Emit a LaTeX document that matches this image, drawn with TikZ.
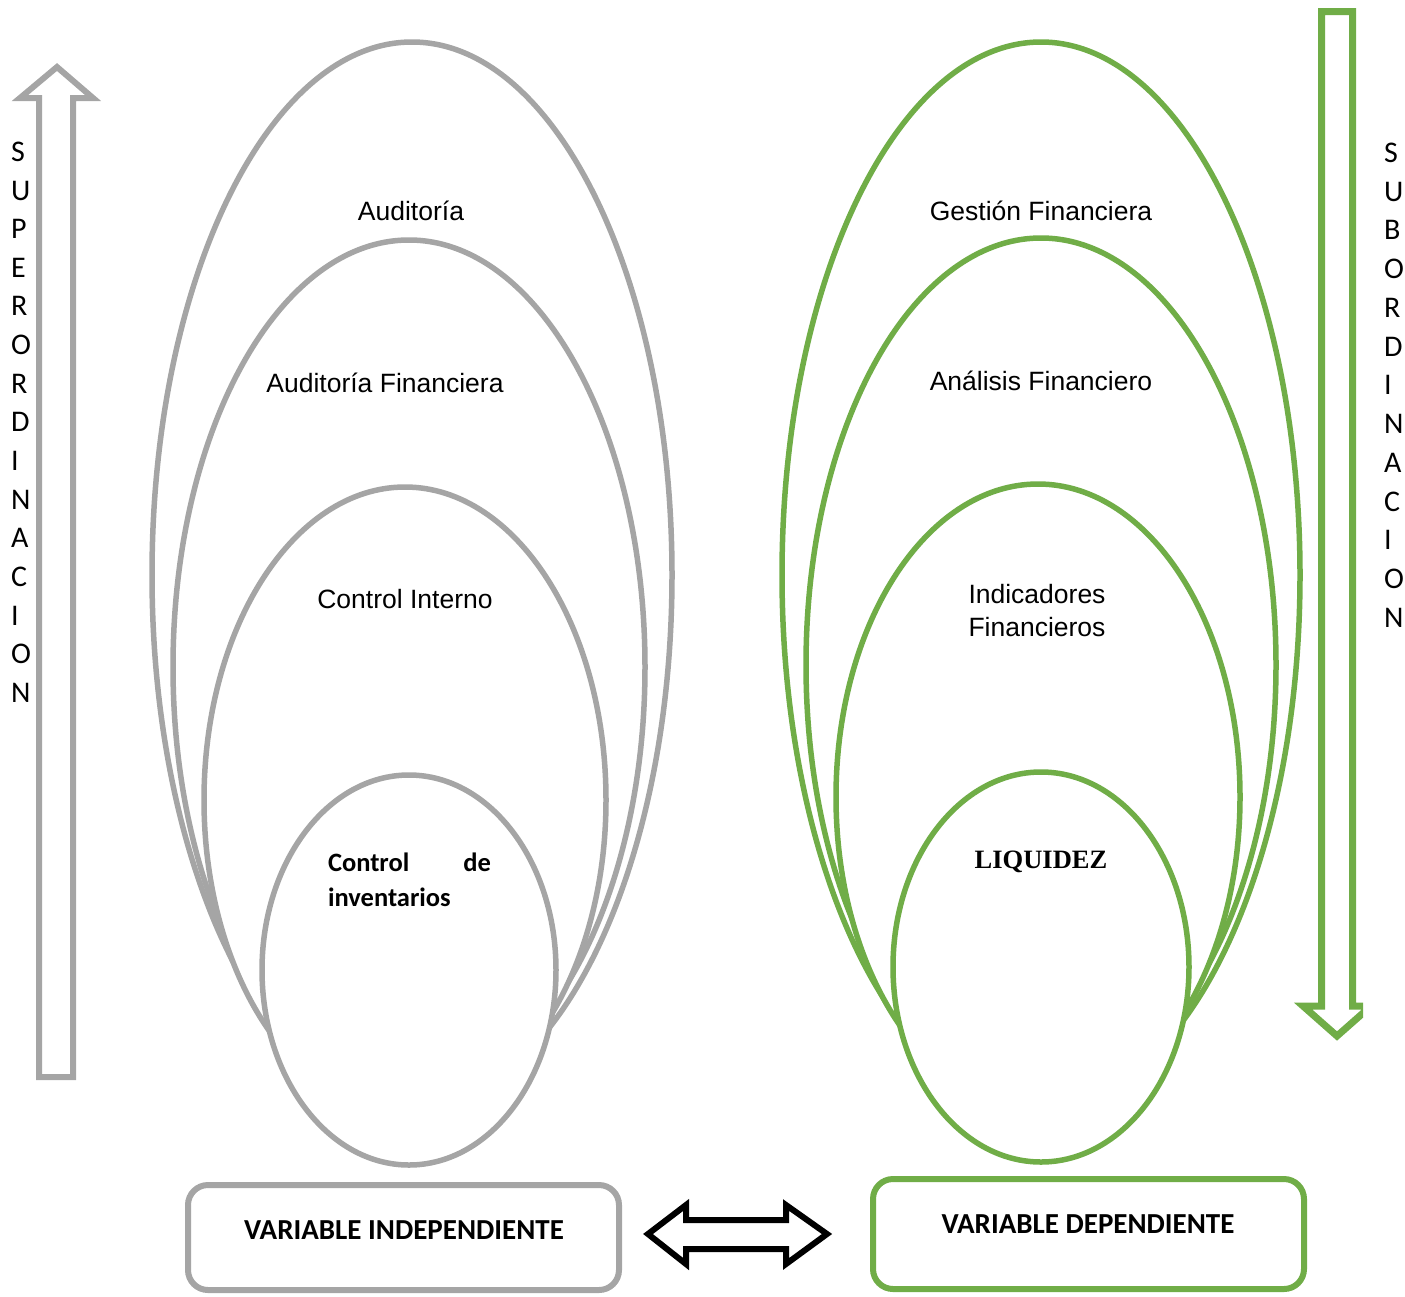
\documentclass[tikz,border=0pt]{standalone}
\usepackage{fontspec}
\setmainfont{Liberation Sans}
\newfontfamily\calibri{Carlito}
\newfontfamily\timesf{Liberation Serif}
\usetikzlibrary{shapes.geometric}
\definecolor{lgray}{HTML}{A5A5A5}
\definecolor{lgreen}{HTML}{70AD47}
\begin{document}
\begin{tikzpicture}[x=1pt,y=-1pt,
  ell/.style={ellipse, draw, line width=5.5pt, fill=white, inner sep=0pt, outer sep=0pt},
  lbl/.style={font=\fontsize{26.5}{33}\selectfont, align=center, inner sep=0pt},
  letter/.style={font=\calibri\fontsize{30}{36}\selectfont, anchor=base west, inner sep=0pt},
  varbox/.style={draw, line width=6pt, rounded corners=20pt, minimum width=431pt, inner sep=0pt, fill=white},
  vartext/.style={font=\calibri\bfseries\fontsize{29}{35}\selectfont, anchor=base, inner sep=0pt},
  blockarrow/.style={line width=6pt, miter limit=10, line join=miter, fill=white}]
\useasboundingbox (0,0) rectangle (1405,1296);

% superordination arrow (gray, up)
\draw[blockarrow, draw=lgray] (73,1077) -- (39,1077) -- (39,98) -- (20,98) -- (57,67) -- (93,98) -- (73,98) -- cycle;
\foreach \l [count=\i] in {S,U,P,E,R,O,R,D,I,N,A,C,I,O,N}
  \node[letter] (sup\i) at (11,{161.4+38.64*(\i-1)}) {\l};

% subordination arrow (green, down), clipped at the right
\begin{scope}
\clip (0,0) rectangle (1363,1296);
\draw[blockarrow, draw=lgreen, line width=7pt] (1321.5,11.5) -- (1352.5,11.5) -- (1352.5,1006) -- (1371,1006) -- (1337,1036) -- (1303,1006) -- (1321.5,1006) -- cycle;
\end{scope}
\foreach \l [count=\i] in {S,U,B,O,R,D,I,N,A,C,I,O,N}
  \node[letter] (sub\i) at (1384,{162.4+38.75*(\i-1)}) {\l};

% gray ellipses
\node[ell, draw=lgray, minimum width=520pt, minimum height=1066pt] (e1) at (412,575) {};
\node[ell, draw=lgray, minimum width=472pt, minimum height=854pt] (e2) at (409,667) {};
\node[ell, draw=lgray, minimum width=402pt, minimum height=626pt] (e3) at (405,800) {};
\node[ell, draw=lgray, minimum width=294pt, minimum height=390pt] (e4) at (409,970) {};

% green ellipses
\node[ell, draw=lgreen, minimum width=518pt, minimum height=1066pt] (g1) at (1041,575) {};
\node[ell, draw=lgreen, minimum width=470pt, minimum height=854pt] (g2) at (1041,665) {};
\node[ell, draw=lgreen, minimum width=404pt, minimum height=626pt] (g3) at (1038,797) {};
\node[ell, draw=lgreen, minimum width=296pt, minimum height=390pt] (g4) at (1041,967) {};

% labels
\node[lbl, anchor=base] (t1) at (411,220) {Auditoría};
\node[lbl, anchor=base] (t2) at (385,392) {Auditoría Financiera};
\node[lbl, anchor=base] (t3) at (405,608) {Control Interno};
\node[lbl, anchor=center, text width=163pt, align=justify,
      font=\calibri\bfseries\fontsize{26.5}{35}\selectfont]
      (t4) at (409.5,880) {Control de \mbox{inventarios}};

\node[lbl, anchor=base] (s1) at (1041,220) {Gestión Financiera};
\node[lbl, anchor=base] (s2) at (1041,390) {Análisis Financiero};
\node[lbl, anchor=center] (s3) at (1037,611) {Indicadores\\Financieros};
\node[lbl, anchor=base, font=\timesf\bfseries\fontsize{26.5}{33}\selectfont] (s4) at (1041,868) {LIQUIDEZ};

% variable boxes
\node[varbox, draw=lgray, minimum height=105pt] (vi) at (403.5,1237.5) {};
\node[vartext] (vitext) at (404,1239.3) {VARIABLE INDEPENDIENTE};
\node[varbox, draw=lgreen, minimum height=110pt] (vd) at (1088.5,1234) {};
\node[vartext] (vdtext) at (1088,1233.3) {VARIABLE DEPENDIENTE};

% double block arrow between the variables
\draw[blockarrow, draw=black] (648,1234) -- (686,1205) -- (686,1220) -- (786,1220) -- (786,1205) -- (827,1234) -- (786,1264) -- (786,1249) -- (686,1249) -- (686,1264) -- cycle;
\end{tikzpicture}
\end{document}
